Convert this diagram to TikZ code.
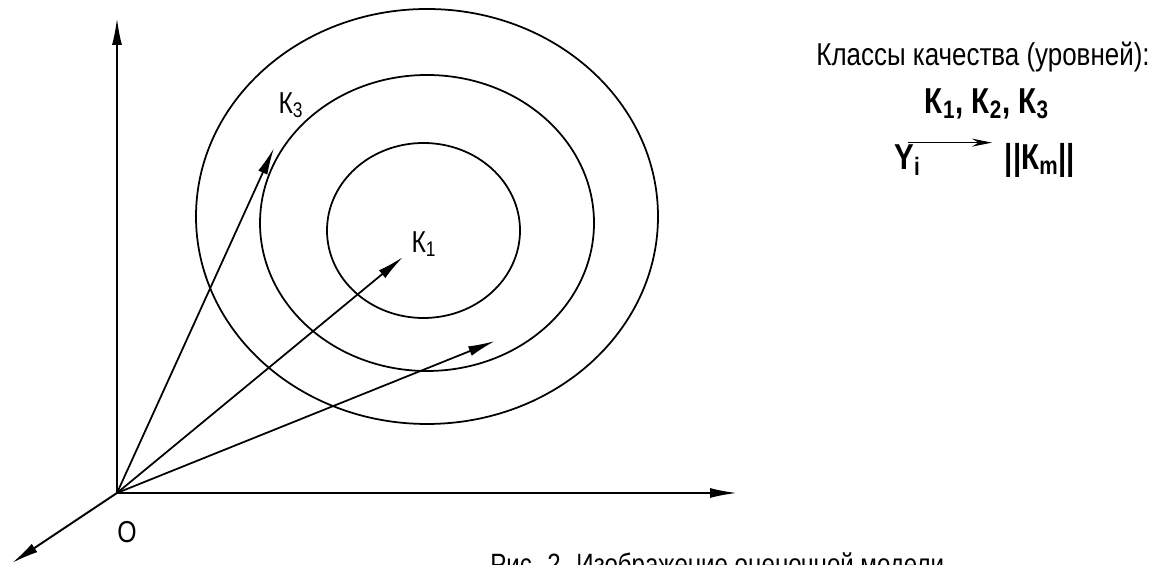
\documentclass[tikz,border=0pt]{standalone}
\usepackage{fontspec}
\setmainfont{Liberation Sans}[FakeStretch=0.82]
\usetikzlibrary{arrows.meta}

\begin{document}
\begin{tikzpicture}[
  axis/.style={line width=1.1pt, -{Latex[length=5.4mm,width=2mm]}},
  vec/.style={line width=1pt, -{Latex[length=5.4mm,width=2mm]}},
  lvl/.style={line width=1pt},
  lbl/.style={font=\fontsize{17.2}{19}\selectfont, inner sep=0pt},
  hdr/.style={font=\fontsize{18}{20}\selectfont, inner sep=0pt},
  bld/.style={font=\fontsize{20.5}{22}\selectfont\bfseries, inner sep=0pt},
  captxt/.style={font=\fontsize{16.7}{19}\selectfont, inner sep=0pt},
  thinarr/.style={line width=0.7pt, -{Stealth[length=4mm,width=1.6mm]}}
]
\useasboundingbox (0,0) rectangle (23.3,11.3);
\coordinate (o)  at (2.34, 1.44);
\coordinate (oy) at (2.34, 10.94);
\coordinate (ox) at (14.74, 1.44);
\coordinate (oz) at (0.24, 0.04);
\coordinate (v3) at (5.48, 8.34);
\coordinate (v1) at (8.06, 6.16);
\coordinate (v2) at (9.90, 4.48);
\draw[lvl] (8.54, 6.97) ellipse (4.62 and 4.15);
\draw[lvl] (8.54, 6.84) ellipse (3.34 and 2.96);
\draw[lvl] (8.47, 6.69) ellipse (1.93 and 1.75);
\draw[axis] (o) -- (oy);
\draw[axis] (o) -- (ox);
\draw[axis] (o) -- (oz);
\draw[vec] (o) -- (v3);
\draw[vec] (o) -- (v1);
\draw[vec] (o) -- (v2);
\node[lbl] (k3) at (5.82, 9.20) {К\textsubscript{3}};
\node[lbl] (k1) at (8.48, 6.42) {К\textsubscript{1}};
\node[lbl] (olbl) at (2.54, 0.66) {O};
\node[hdr] (cls) at (19.66, 10.16) {Классы качества (уровней):};
\node[bld] (kk) at (19.74, 9.22) {К\textsubscript{1}, К\textsubscript{2}, К\textsubscript{3}};
\node[bld] (yi) at (18.15, 8.10) {Y\textsubscript{i}};
\node[bld] (km) at (20.80, 8.10) {||К\textsubscript{m}||};
\draw[thinarr, shorten >=0.25cm] ([yshift=1pt]yi.north) -- ([yshift=1pt]yi.north -| km.west);
\node[captxt, anchor=base west] (capt) at (9.80, -0.20) {Рис. 2. Изображение оценочной модели};
\end{tikzpicture}
\end{document}
